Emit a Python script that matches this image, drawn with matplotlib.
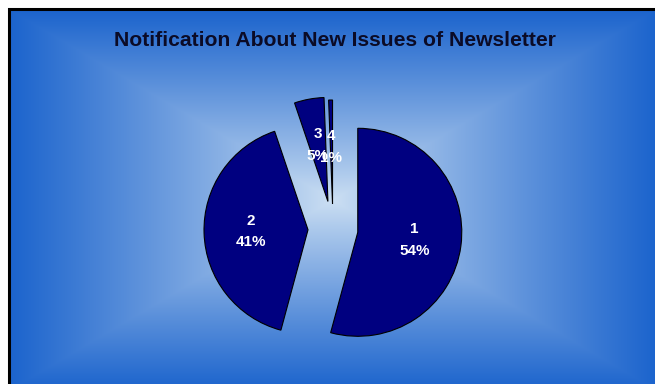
import numpy as np
import matplotlib.pyplot as plt
from matplotlib.patches import Rectangle

plt.rcParams['font.family'] = ['Liberation Sans', 'DejaVu Sans']

# survey answers and their shares (percent)
categories = ['1', '2', '3', '4']
shares = [54.2, 40.6, 4.6, 0.6]
title = 'Notification About New Issues of Newsletter'

W, H = 655, 384
fig = plt.figure(figsize=(W / 100, H / 100), dpi=100)
ax = fig.add_axes([0, 0, 1, 1])

# rectangular gradient, light in the middle, blue towards the frame
x0, x1 = 10, 656
y0, y1 = -6, 374
nx, ny = 646, 380
gx = np.linspace(-1, 1, nx)
gy = np.linspace(-1, 1, ny)
GX, GY = np.meshgrid(gx, gy)
t = np.maximum(np.abs(GX), np.abs(GY)) ** 0.9
c_mid = np.array([205, 224, 243]) / 255
c_edge = np.array([28, 100, 205]) / 255
img = c_mid[None, None, :] * (1 - t[..., None]) + c_edge[None, None, :] * t[..., None]
ax.imshow(img, extent=[x0, x1, y0, y1], origin='lower', zorder=0, interpolation='bilinear')

# black frame around the chart area
ax.add_patch(Rectangle((8.5, -20), 700, 375.5 + 20, fill=False,
                       edgecolor='black', linewidth=2.2, zorder=5))

names = iter(categories)
ax.pie(shares, startangle=90, counterclock=False, radius=104,
       center=(333, H - 229), explode=[25, 25, 28, 25],
       colors=['#000080'] * len(shares),
       wedgeprops=dict(edgecolor='black', linewidth=0.8),
       autopct=lambda p: f'{next(names)}\n{p:.0f}%', pctdistance=0.55,
       textprops=dict(color='white', fontsize=11, fontweight='bold',
                      linespacing=1.7))

ax.text(334.5, H - 40, title, ha='center', va='center', fontsize=15.2,
        fontweight='bold', color='#0b0b26')

ax.set_xlim(0, W)
ax.set_ylim(0, H)
ax.set_aspect('auto')
ax.axis('off')
fig.patch.set_facecolor('white')

fig.savefig('out.png', dpi=100)
